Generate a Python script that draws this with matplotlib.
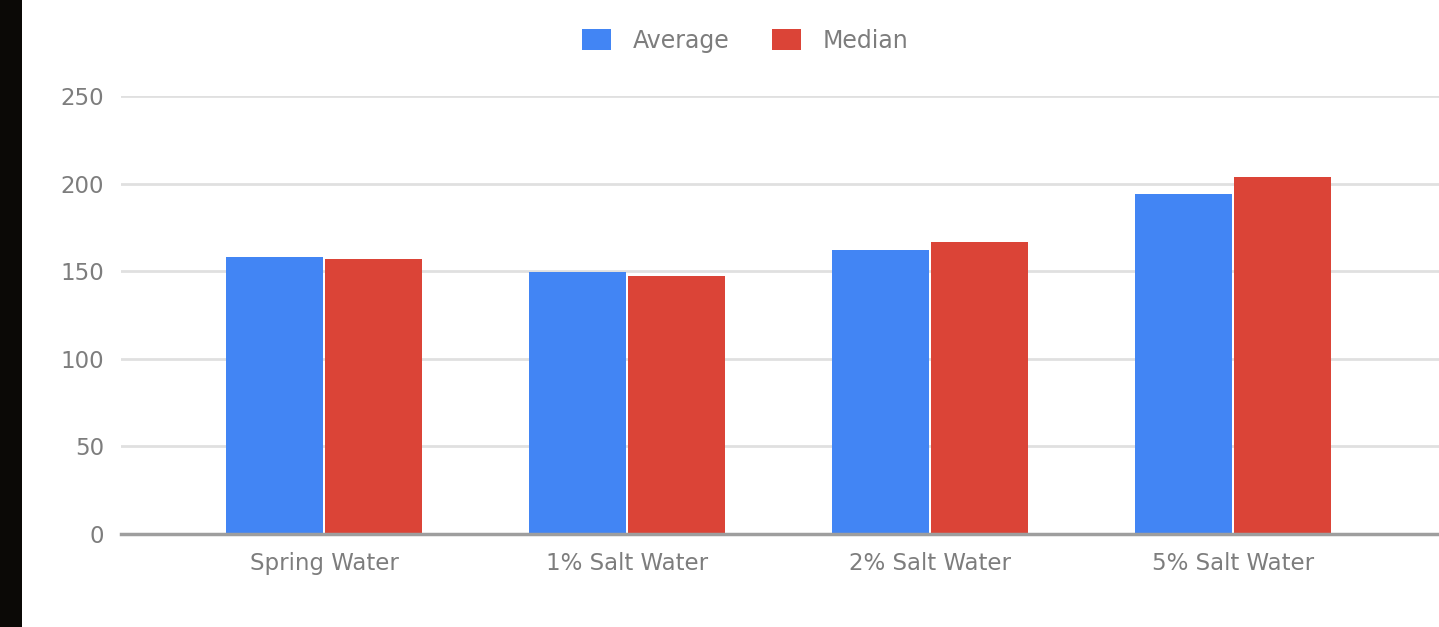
import numpy as np
import matplotlib.pyplot as plt
from matplotlib.patches import Rectangle

plt.rcParams['font.family'] = ['DejaVu Sans']

# Data
categories = ["Spring Water", "1% Salt Water", "2% Salt Water", "5% Salt Water"]
average = [158, 149.5, 162, 194]
median = [157, 147.5, 166.5, 204]

blue = "#4285f4"
red = "#db4437"
text_gray = "#7d7d7d"

fig = plt.figure(figsize=(14.39, 6.27), dpi=100)
fig.patch.set_facecolor("white")
# dark strip down the left edge
fig.patches.append(Rectangle((0, 0), 22 / 1439, 1, transform=fig.transFigure,
                             facecolor="#0b0906", edgecolor="none", zorder=0))

ax = fig.add_axes([121 / 1439, 1 - 534 / 627, 1 - 121 / 1439, (534 - 96) / 627])

x = np.arange(len(categories))
w = 0.32
ax.bar(x - w / 2 - 0.003, average, width=w, color=blue, label="Average", zorder=3)
ax.bar(x + w / 2 + 0.003, median, width=w, color=red, label="Median", zorder=3)

ax.set_xlim(-0.67, 3.68)
ax.set_ylim(0, 250)
ax.set_yticks([0, 50, 100, 150, 200, 250])
ax.set_xticks(x)
ax.set_xticklabels(categories)
ax.tick_params(axis="both", length=0, labelsize=16.5, colors=text_gray)
ax.tick_params(axis="y", pad=12)
ax.tick_params(axis="x", pad=13)
ax.grid(axis="y", color="#e0e0e0", linewidth=2, zorder=0)
for name in ["top", "right", "left"]:
    ax.spines[name].set_visible(False)
ax.spines["bottom"].set_color("#9e9e9e")
ax.spines["bottom"].set_linewidth(2.5)
ax.spines["bottom"].set_zorder(4)

leg = fig.legend(loc="center", bbox_to_anchor=(745 / 1439, 1 - 41 / 627), ncol=2,
                 frameon=False, fontsize=17, handlelength=1.25, handleheight=1.0,
                 handletextpad=0.9, columnspacing=1.8)
for t in leg.get_texts():
    t.set_color(text_gray)

fig.savefig("out.png", dpi=100)
